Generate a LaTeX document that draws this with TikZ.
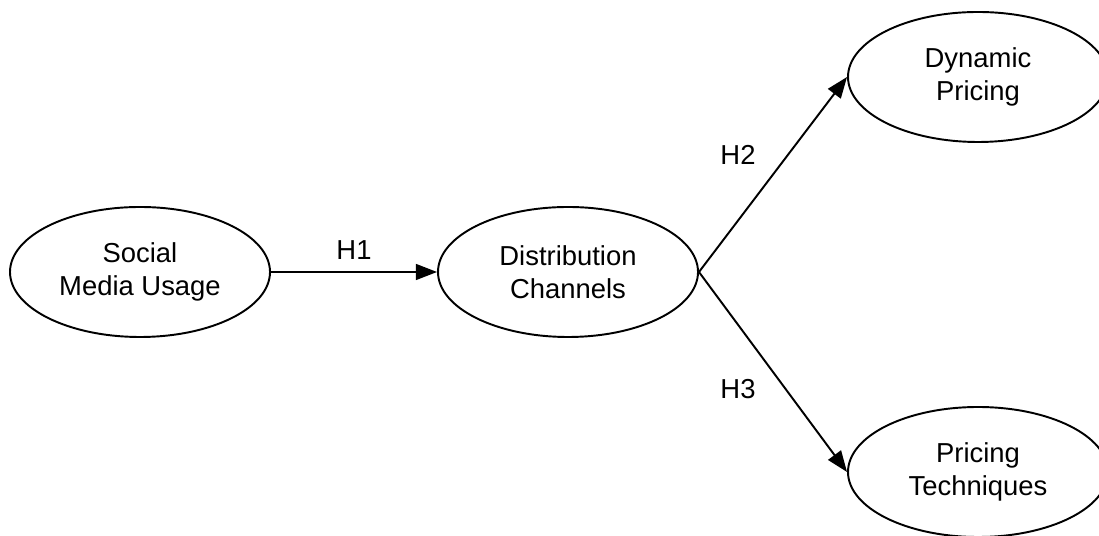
\documentclass[tikz,border=0pt]{standalone}
\usepackage{fontspec}
\setmainfont{Liberation Sans}
\usetikzlibrary{shapes.geometric,arrows.meta}

\begin{document}
\begin{tikzpicture}[scale=1,
    construct/.style={ellipse, draw, line width=1.1pt, minimum width=5.2cm,
      minimum height=2.6cm, align=center, font=\fontsize{15.6}{19}\selectfont},
    path/.style={line width=1.1pt, -{Triangle[length=12pt,width=9pt]}},
    hyp/.style={font=\fontsize{15.6}{19}\selectfont}]
    \useasboundingbox (0,0) rectangle (21.98,10.72);
    \node[construct] (smu) at (2.8,5.28) {Social\\Media Usage};
    \node[construct] (dc) at (11.36,5.28) {Distribution\\Channels};
    \node[construct] (dp) at (19.56,9.18) {Dynamic\\Pricing};
    \node[construct] (pt) at (19.56,1.28) {Pricing\\Techniques};
    \draw[path] (smu.east) -- node[hyp, yshift=0.44cm] (h1) {H1} (dc.west);
    \draw[path] (dc.east) -- node[hyp, xshift=-0.7cm, yshift=0.4cm] (h2) {H2} (dp.west);
    \draw[path] (dc.east) -- node[hyp, xshift=-0.7cm, yshift=-0.34cm] (h3) {H3} (pt.west);
  \end{tikzpicture}
\end{document}
